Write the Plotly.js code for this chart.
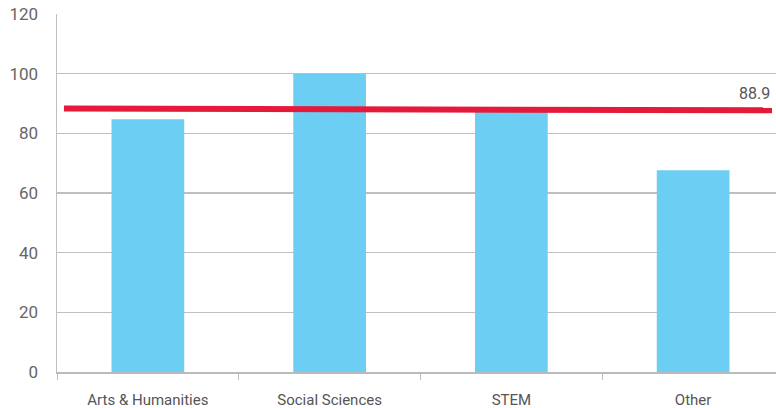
<!DOCTYPE html>
<html>
<head>
<meta charset="utf-8">
<script src="https://cdn.plot.ly/plotly-3.0.1.min.js"></script>
<style>html,body{margin:0;padding:0;background:#fff}#chart{width:776px;height:408px}</style>
</head>
<body>
<div id="chart"></div>
<script>
// Data
const categories = ["Arts & Humanities", "Social Sciences", "STEM", "Other"];
const values = [84.7, 100, 87.3, 67.6];
const avgLabel = 88.9;
// average line endpoints (fraction of plot width, value) as drawn in the picture
const avgLineX = [0.0097, 0.9944];
const avgLineY = [88.3, 87.7];
const yTicks = [0, 20, 40, 60, 80, 100, 120];

const fontFam = "Roboto, 'Open Sans', sans-serif";

const traces = [
  {
    type: "bar",
    x: categories,
    y: values,
    marker: {color: "#6dcef4"},
    width: 0.40,
    hoverinfo: "skip"
  },
  {
    type: "scatter",
    mode: "lines",
    x: avgLineX,
    y: avgLineY,
    xaxis: "x2",
    line: {color: "#e5193a", width: 6},
    hoverinfo: "skip"
  }
];

const layout = {
  width: 776,
  height: 408,
  margin: {l: 57, r: 0, t: 14, b: 36},
  paper_bgcolor: "#fff",
  plot_bgcolor: "#fff",
  showlegend: false,
  font: {family: fontFam, color: "#666", size: 15},
  xaxis: {
    type: "category",
    range: [-0.5, 3.456],
    showgrid: false,
    showline: true,
    linecolor: "#bbb",
    linewidth: 1.5,
    ticks: "outside",
    tickson: "boundaries",
    ticklen: 6,
    tickcolor: "#bbb",
    tickwidth: 1,
    ticklabelstandoff: 13,
    tickfont: {size: 15, color: "#555"},
    zeroline: false
  },
  xaxis2: {
    overlaying: "x",
    range: [0, 1],
    visible: false
  },
  yaxis: {
    range: [0, 120],
    tickvals: yTicks,
    showgrid: true,
    gridcolor: "#bfbfbf",
    gridwidth: 1.5,
    showline: true,
    linecolor: "#bfbfbf",
    linewidth: 1.5,
    zeroline: false,
    ticks: "",
    ticklabelstandoff: 14,
    tickfont: {size: 17, color: "#666"}
  },
  annotations: [{
    xref: "x2", yref: "y",
    x: avgLineX[1], y: avgLabel,
    text: String(avgLabel),
    showarrow: false,
    xanchor: "right",
    yanchor: "bottom",
    yshift: 2,
    font: {size: 16, color: "#555", family: fontFam}
  }]
};

Plotly.newPlot("chart", traces, layout, {displayModeBar: false, staticPlot: true});
</script>
</body>
</html>
